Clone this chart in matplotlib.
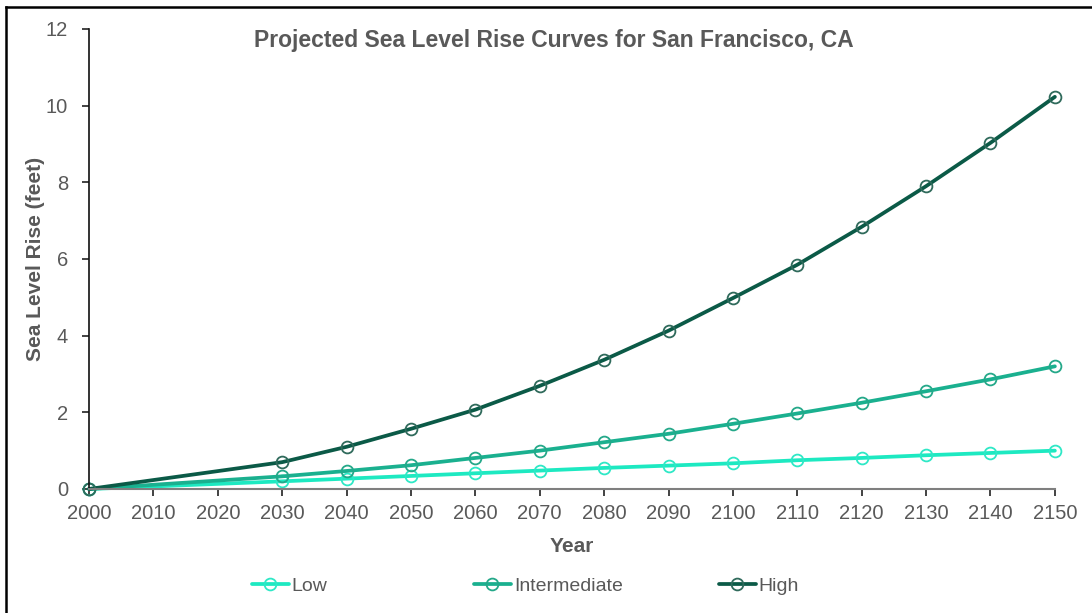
import matplotlib
matplotlib.use('Agg')
import matplotlib.pyplot as plt
from matplotlib.lines import Line2D

years = [2000, 2030, 2040, 2050, 2060, 2070, 2080, 2090, 2100, 2110, 2120, 2130, 2140, 2150]
low = [0, 0.20, 0.27, 0.34, 0.41, 0.48, 0.55, 0.61, 0.67, 0.75, 0.81, 0.88, 0.94, 1.00]
intermediate = [0, 0.33, 0.47, 0.62, 0.81, 1.00, 1.22, 1.44, 1.70, 1.97, 2.25, 2.55, 2.86, 3.20]
high = [0, 0.70, 1.10, 1.57, 2.07, 2.69, 3.37, 4.13, 4.98, 5.85, 6.84, 7.90, 9.03, 10.23]
x_ticks = list(range(2000, 2151, 10))
y_ticks = [0, 2, 4, 6, 8, 10, 12]

gray = '#595959'
plt.rcParams['font.family'] = ['Liberation Sans', 'DejaVu Sans']

fig = plt.figure(figsize=(10.92, 6.13), dpi=100)
ax = fig.add_axes([0.0815, 0.2023, 0.8845, 0.7504])

series = [
    ('Low', low, '#1de9c1', '#2ee8c6'),
    ('Intermediate', intermediate, '#1ab08f', '#24a889'),
    ('High', high, '#0b5a47', '#2f6a5b'),
]
handles = []
for name, vals, col, edge in series:
    ln, = ax.plot(years, vals, color=col, lw=2.7, marker='o', ms=8.5,
                  mfc='none', mec=edge, mew=1.3, label=name, solid_capstyle='round')
    ln.set_clip_on(False)
    handles.append(ln)

ax.set_xlim(2000, 2150)
ax.set_ylim(0, 12)
ax.set_xticks(x_ticks)
ax.set_yticks(y_ticks)
ax.tick_params(axis='both', labelsize=14.5, labelcolor=gray, length=5, width=1.2, color='#222222')
ax.tick_params(axis='x', pad=6)
ax.tick_params(axis='y', pad=10)
for s in ['top', 'right']:
    ax.spines[s].set_visible(False)
ax.spines['left'].set_color('#111111')
ax.spines['left'].set_linewidth(1.2)
ax.spines['bottom'].set_color('#7f7f7f')
ax.spines['bottom'].set_linewidth(1.5)

ax.set_xlabel('Year', fontsize=15, fontweight='bold', color=gray, labelpad=10)
ax.set_ylabel('Sea Level Rise (feet)', fontsize=15, fontweight='bold', color=gray, labelpad=1)
ax.text(0.481, 1.0, 'Projected Sea Level Rise Curves for San Francisco, CA',
        transform=ax.transAxes, ha='center', va='top', fontsize=16.5,
        fontweight='bold', color=gray)

# legend entries spaced like the original
leg_x = [252, 474, 719]
for h, lx in zip(handles, leg_x):
    leg = fig.legend(handles=[h], loc='center left', bbox_to_anchor=(lx / 1092, 1 - 586 / 613),
                     frameon=False, borderpad=0, borderaxespad=0, handlelength=1.9,
                     handletextpad=0.15, prop={'size': 14})
    for t in leg.get_texts():
        t.set_color(gray)

# figure border (top and left edges)
fig.add_artist(Line2D([6 / 1092, 6 / 1092], [0, 1 - 7 / 613], transform=fig.transFigure, color='black', lw=1.8))
fig.add_artist(Line2D([6 / 1092, 1], [1 - 7 / 613, 1 - 7 / 613], transform=fig.transFigure, color='black', lw=1.8))

fig.savefig('out.png', dpi=100)
